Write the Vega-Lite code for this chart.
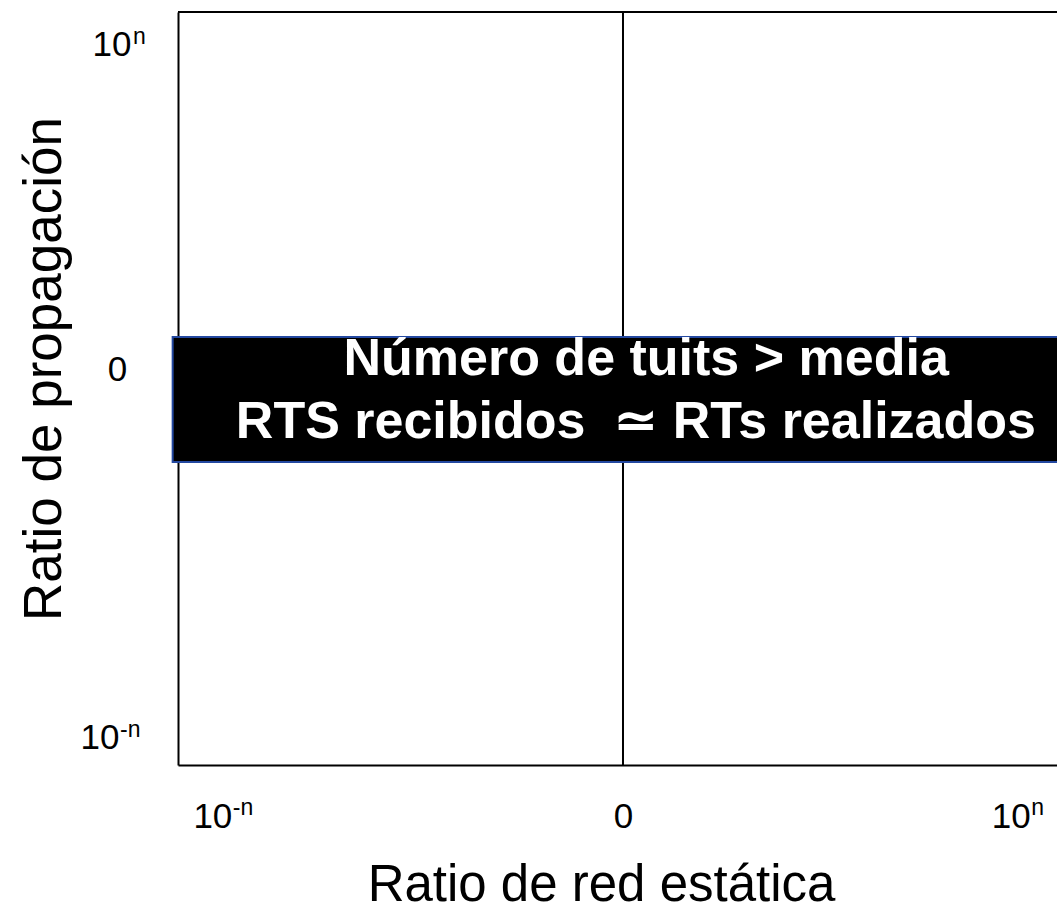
{
  "$schema": "https://vega.github.io/schema/vega-lite/v6.json",
  "autosize": {"type": "none"},
  "width": 879,
  "height": 753,
  "padding": {"left": 178, "top": 12, "right": 0, "bottom": 147},
  "background": "white",
  "config": {"view": {"stroke": null}, "font": "Liberation Sans"},
  "datasets": {
    "vline": [{"x": 0, "y": -1, "y2": 1}],
    "hline": [{"x": -1, "x2": 1, "y": 1}],
    "box": [{"x": -1.012, "x2": 1.02, "y": 0.1368, "y2": -0.1952}],
    "labels": [
      {"x": 0.052, "y": 0.0359, "text": "Número de tuits > media"},
      {"x": 0.029, "y": -0.1315, "text": "RTS recibidos \u00a0≃ RTs realizados"}
    ],
    "xsup": [{"x": -0.897, "y": -1, "exp": "-n"}, {"x": 0.897, "y": -1, "exp": "n"}],
    "ysup": [{"x": -1, "y": 0.915, "exp": "n"}, {"x": -1, "y": -0.926, "exp": "-n"}]
  },
  "encoding": {
    "x": {
      "field": "x",
      "type": "quantitative",
      "scale": {"domain": [-1, 0.9753], "nice": false, "zero": false},
      "axis": {
        "title": "Ratio de red estática",
        "values": [-0.897, 0, 0.897],
        "labelExpr": "abs(datum.value) > 0.5 ? '10' : '0'",
        "grid": false,
        "ticks": false,
        "tickSize": 0,
        "domainColor": "black",
        "domainWidth": 2,
        "labelFontSize": 35,
        "labelColor": "black",
        "labelFont": "Liberation Sans",
        "labelBaseline": "top",
        "labelPadding": 34,
        "labelAlign": {"condition": {"test": "abs(datum.value) > 0.5", "value": "right"}, "value": "center"},
        "labelOffset": {"condition": {"test": "abs(datum.value) > 0.5", "value": 8}, "value": 0},
        "labelFlush": false,
        "labelOverlap": false,
        "titleFontSize": 51,
        "titleFontWeight": "normal",
        "titleColor": "black",
        "titleFont": "Liberation Sans",
        "titleX": 423,
        "titleY": 135,
        "titleAlign": "center",
        "titleBaseline": "alphabetic"
      }
    },
    "y": {
      "field": "y",
      "type": "quantitative",
      "scale": {"domain": [-1, 1], "nice": false, "zero": false},
      "axis": {
        "title": "Ratio de propagación",
        "values": [-0.926, 0.0505, 0.915],
        "labelExpr": "abs(datum.value) > 0.5 ? '10' : '0'",
        "grid": false,
        "ticks": false,
        "tickSize": 0,
        "domainColor": "black",
        "domainWidth": 2,
        "labelFontSize": 35,
        "labelColor": "black",
        "labelFont": "Liberation Sans",
        "labelBaseline": "middle",
        "labelPadding": {"condition": [{"test": "datum.value > 0.5", "value": 47}, {"test": "datum.value < -0.5", "value": 59}], "value": 61},
        "labelAlign": {"condition": {"test": "abs(datum.value) > 0.5", "value": "right"}, "value": "center"},
        "labelFlush": false,
        "labelOverlap": false,
        "titleFontSize": 53,
        "titleFontWeight": "normal",
        "titleColor": "black",
        "titleFont": "Liberation Sans",
        "titleX": -118,
        "titleY": 356.5,
        "titleAngle": -90,
        "titleAlign": "center",
        "titleBaseline": "alphabetic"
      }
    }
  },
  "layer": [
    {
      "data": {"name": "vline"},
      "mark": {"type": "rule", "color": "black", "strokeWidth": 2},
      "encoding": {"y2": {"field": "y2"}}
    },
    {
      "data": {"name": "hline"},
      "mark": {"type": "rule", "color": "black", "strokeWidth": 2},
      "encoding": {"x2": {"field": "x2"}}
    },
    {
      "data": {"name": "box"},
      "mark": {"type": "rect", "fill": "black", "stroke": "#2348A0", "strokeWidth": 2},
      "encoding": {"x2": {"field": "x2"}, "y2": {"field": "y2"}}
    },
    {
      "data": {"name": "labels"},
      "mark": {"type": "text", "color": "white", "font": "Liberation Sans", "fontWeight": "bold", "fontSize": 52, "align": "center", "baseline": "alphabetic"},
      "encoding": {"text": {"field": "text"}}
    },
    {
      "data": {"name": "xsup"},
      "mark": {"type": "text", "color": "black", "font": "Liberation Sans", "fontSize": 23, "align": "left", "baseline": "alphabetic", "dx": 9, "dy": 50},
      "encoding": {"text": {"field": "exp"}}
    },
    {
      "data": {"name": "ysup"},
      "transform": [{"filter": "datum.y > 0"}],
      "mark": {"type": "text", "color": "black", "font": "Liberation Sans", "fontSize": 23, "align": "left", "baseline": "alphabetic", "dx": -45},
      "encoding": {"text": {"field": "exp"}}
    },
    {
      "data": {"name": "ysup"},
      "transform": [{"filter": "datum.y < 0"}],
      "mark": {"type": "text", "color": "black", "font": "Liberation Sans", "fontSize": 23, "align": "left", "baseline": "alphabetic", "dx": -58},
      "encoding": {"text": {"field": "exp"}}
    }
  ]
}
